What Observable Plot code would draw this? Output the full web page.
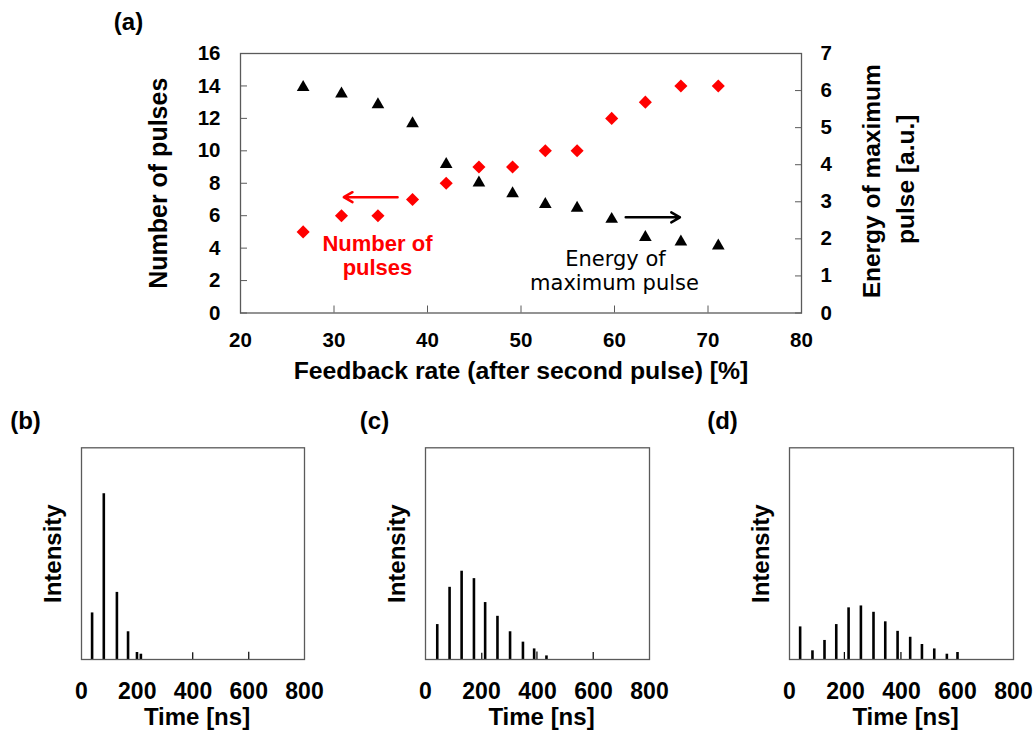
<!DOCTYPE html>
<html>
<head>
<meta charset="utf-8">
<script src="https://cdn.jsdelivr.net/npm/d3@7"></script>
<script src="https://cdn.jsdelivr.net/npm/@observablehq/plot@0.6"></script>
<style>
  body { margin: 0; background: #fff; }
  #root { position: relative; width: 1036px; height: 735px; overflow: hidden; background: #fff; }
  #root svg { position: absolute; }
</style>
</head>
<body>
<div id="root"></div>
<script>
// ---------- Panel (a) data ----------
const feedbackRate   = [26.7, 30.8, 34.7, 38.4, 42.0, 45.5, 49.1, 52.6, 56.0, 59.7, 63.3, 67.1, 71.1];
const numberOfPulses = [5, 6, 6, 7, 8, 9, 9, 10, 10, 12, 13, 14, 14];
const maxPulseEnergy = [6.09, 5.91, 5.62, 5.11, 4.01, 3.51, 3.22, 2.93, 2.83, 2.53, 2.04, 1.92, 1.81];
const leftTicks  = [0, 2, 4, 6, 8, 10, 12, 14, 16];
const rightTicks = [0, 1, 2, 3, 4, 5, 6, 7];
const rateTicks  = [20, 30, 40, 50, 60, 70, 80];

// ---------- Panels (b)-(d) data (time in ns, intensity in a.u.) ----------
const timeTicks = [0, 200, 400, 600, 800];
const pulseTimeB = [38, 80, 127, 167, 199, 213];
const pulseIntB  = [0.22, 0.783, 0.317, 0.131, 0.033, 0.025];
const spikeTimeB = [399, 600];
const spikeIntB  = [0.032, 0.034];

const pulseTimeC = [42, 86, 129, 173, 213, 257, 302, 348, 388, 432];
const pulseIntC  = [0.165, 0.341, 0.417, 0.382, 0.269, 0.204, 0.131, 0.082, 0.050, 0.017];
const spikeTimeC = [201, 398, 599];
const spikeIntC  = [0.03, 0.036, 0.033];

const pulseTimeD = [38, 82, 125, 167, 211, 255, 300, 342, 386, 431, 473, 517, 562, 600];
const pulseIntD  = [0.154, 0.041, 0.090, 0.165, 0.244, 0.253, 0.223, 0.178, 0.133, 0.105, 0.071, 0.050, 0.025, 0.033];
const spikeTimeD = [196, 398];
const spikeIntD  = [0.033, 0.033];

const FONT = '"Liberation Sans", Arial, Helvetica, sans-serif';
const AXIS_GRAY = "#5a5a5a";
const root = document.getElementById("root");

function place(svg, left, top) {
  svg.style.left = left + "px";
  svg.style.top = top + "px";
  root.appendChild(svg);
}

const centered = {textAnchor: "middle", lineAnchor: "middle"};

// ---------- Panel (a) ----------
const rows = feedbackRate.map((r, i) => ({rate: r, n: numberOfPulses[i], e: maxPulseEnergy[i]}));
const topDims = {width: 1036, height: 390, marginLeft: 240, marginRight: 235, marginTop: 53, marginBottom: 77.5};

const plotA = Plot.plot({
  ...topDims,
  style: {fontFamily: FONT, background: "transparent", overflow: "visible"},
  x: {domain: [20, 80]},
  y: {domain: [0, 16]},
  marks: [
    Plot.frame({stroke: AXIS_GRAY, strokeWidth: 1.3}),
    Plot.axisX(rateTicks, {anchor: "bottom", tickSize: -7, tickPadding: 26, stroke: AXIS_GRAY, fontSize: 20.5, fontWeight: "bold", label: null}),
    Plot.axisY(leftTicks, {anchor: "left", tickSize: -7, tickPadding: 27, stroke: AXIS_GRAY, fontSize: 20.5, fontWeight: "bold", label: null}),
    Plot.dot(rows, {x: "rate", y: "n", symbol: "diamond2", r: 5.9, fill: "#ff0000", stroke: "none"}),
    Plot.arrow([{x1: 36.8, x2: 31.05, y: 7.14}], {x1: "x1", x2: "x2", y1: "y", y2: "y", stroke: "#ff0000", strokeWidth: 2.5, headLength: 6}),
    Plot.text(["Number of"], {x: 34.65, y: 4.25, fill: "#ff0000", fontSize: 22, fontWeight: "bold", ...centered}),
    Plot.text(["pulses"], {x: 34.65, y: 2.75, fill: "#ff0000", fontSize: 22, fontWeight: "bold", ...centered}),
    Plot.text(["Feedback rate (after second pulse) [%]"], {frameAnchor: "bottom", dy: 58, fontSize: 24.8, fontWeight: "bold", fill: "black", ...centered}),
    Plot.text(["Number of pulses"], {frameAnchor: "left", dx: -82, rotate: -90, fontSize: 25, fontWeight: "bold", fill: "black", ...centered}),
    Plot.text(["(a)"], {frameAnchor: "top-left", dx: -112, dy: -31, fontSize: 24, fontWeight: "bold", fill: "black", ...centered})
  ]
});
place(plotA, 0, 0);

const plotA2 = Plot.plot({
  ...topDims,
  style: {fontFamily: FONT, background: "transparent", overflow: "visible"},
  x: {domain: [20, 80], axis: null},
  y: {domain: [0, 7]},
  marks: [
    Plot.axisY(rightTicks, {anchor: "right", tickSize: -7, tickPadding: 26, stroke: AXIS_GRAY, fontSize: 20.5, fontWeight: "bold", label: null}),
    Plot.dot(rows, {x: "rate", y: "e", symbol: "triangle", r: 4.7, fill: "black", stroke: "none"}),
    Plot.arrow([{x1: 61.2, x2: 67.0, y: 2.58}], {x1: "x1", x2: "x2", y1: "y", y2: "y", stroke: "black", strokeWidth: 2.5, headLength: 6}),
    Plot.text(["Energy of"], {x: 60.1, y: 1.46, fill: "black", fontSize: 21, fontFamily: '"DejaVu Sans", sans-serif', ...centered}),
    Plot.text(["maximum pulse"], {x: 60.0, y: 0.81, fill: "black", fontSize: 21, fontFamily: '"DejaVu Sans", sans-serif', ...centered}),
    Plot.text(["Energy of maximum"], {frameAnchor: "right", dx: 71, dy: -2, rotate: -90, fontSize: 24.5, fontWeight: "bold", fill: "black", ...centered}),
    Plot.text(["pulse [a.u.]"], {frameAnchor: "right", dx: 105, dy: -4, rotate: -90, fontSize: 24.5, fontWeight: "bold", fill: "black", ...centered})
  ]
});
place(plotA2, 0, 0);

// ---------- Panels (b), (c), (d) ----------
function pulsePanel({label, times, ints, spikeTimes, spikeInts, left, marginLeft, marginRight, labelX}) {
  const pulses = times.map((t, i) => ({t, v: ints[i]}));
  const spikes = spikeTimes.map((t, i) => ({t, v: spikeInts[i]}));
  const svg = Plot.plot({
    width: 345, height: 335,
    marginLeft, marginRight, marginTop: 47.3, marginBottom: 76,
    style: {fontFamily: FONT, background: "transparent", overflow: "visible"},
    x: {domain: [0, 800]},
    y: {domain: [0, 1], axis: null},
    marks: [
      Plot.ruleX(spikes, {x: "t", y1: 0, y2: "v", stroke: "black", strokeWidth: 1.2}),
      Plot.ruleX(pulses, {x: "t", y1: 0, y2: "v", stroke: "black", strokeWidth: 2.6}),
      Plot.frame({stroke: AXIS_GRAY, strokeWidth: 1.3}),
      Plot.axisX(timeTicks, {anchor: "bottom", tickSize: 0, tickPadding: 23, fontSize: 23, fontWeight: "bold", label: null}),
      Plot.text(["Time [ns]"], {frameAnchor: "bottom", dx: 4, dy: 57.5, fontSize: 24, fontWeight: "bold", fill: "black", ...centered}),
      Plot.text(["Intensity"], {frameAnchor: "left", dx: -28, rotate: -90, fontSize: 24, fontWeight: "bold", fill: "black", ...centered}),
      Plot.text([label], {frameAnchor: "top-left", dx: labelX - marginLeft, dy: -26.3, fontSize: 24, fontWeight: "bold", fill: "black", ...centered})
    ]
  });
  place(svg, left, 400);
}

pulsePanel({label: "(b)", times: pulseTimeB, ints: pulseIntB, spikeTimes: spikeTimeB, spikeInts: spikeIntB, left: 0, marginLeft: 81, marginRight: 41, labelX: 25});
pulsePanel({label: "(c)", times: pulseTimeC, ints: pulseIntC, spikeTimes: spikeTimeC, spikeInts: spikeIntC, left: 345, marginLeft: 80, marginRight: 41, labelX: 29});
pulsePanel({label: "(d)", times: pulseTimeD, ints: pulseIntD, spikeTimes: spikeTimeD, spikeInts: spikeIntD, left: 691, marginLeft: 98, marginRight: 23, labelX: 31});
</script>
</body>
</html>
